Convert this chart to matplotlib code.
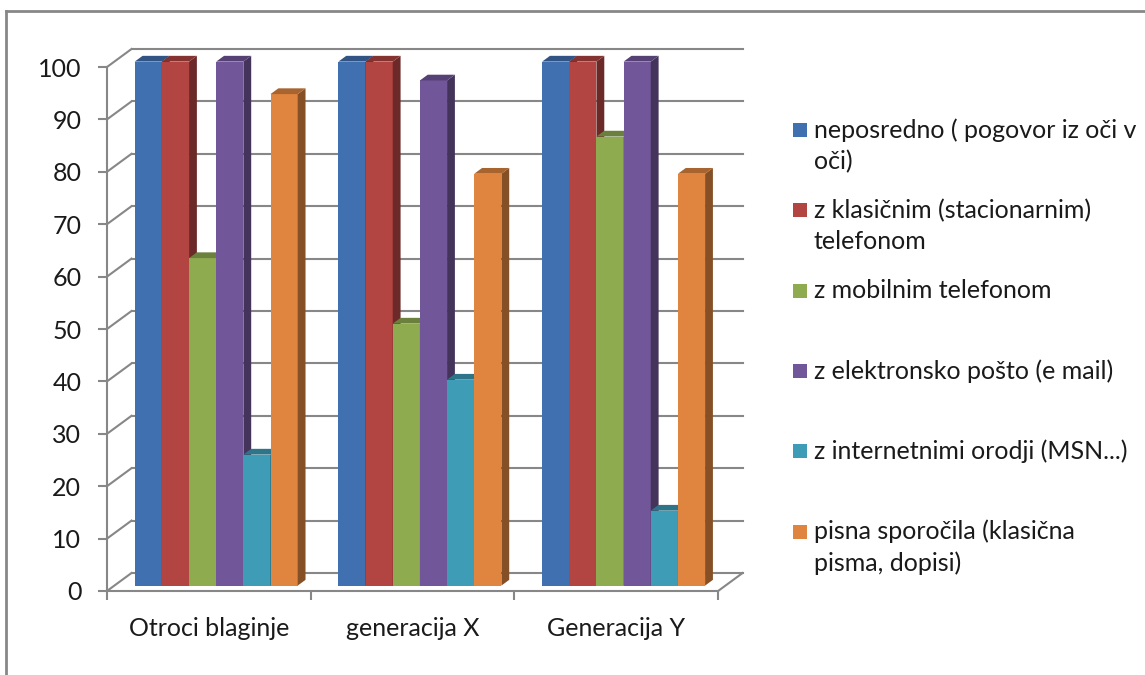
import numpy as np
import matplotlib.pyplot as plt
from matplotlib.patches import Polygon, Rectangle
from matplotlib.lines import Line2D
from matplotlib.colors import to_rgb

plt.rcParams['font.family'] = ['Lato', 'DejaVu Sans']

categories = ['Otroci blaginje', 'generacija X', 'Generacija Y']
series_labels = [
    'neposredno ( pogovor iz oči v\noči)',
    'z klasičnim (stacionarnim)\ntelefonom',
    'z mobilnim telefonom',
    'z elektronsko pošto (e mail)',
    'z internetnimi orodji (MSN...)',
    'pisna sporočila (klasična\npisma, dopisi)',
]
neposredno = [100, 100, 100]
klasicni = [100, 100, 100]
mobilni = [62.5, 50, 85.7]
email = [100, 96.4, 100]
internet = [25, 39.3, 14.3]
pisma = [93.8, 78.6, 78.6]
series = [neposredno, klasicni, mobilni, email, internet, pisma]
colors = ['#4170B0', '#B24441', '#8FAB50', '#715699', '#3E9CB6', '#E0853F']
yticks = list(range(0, 101, 10))

W, H = 1145, 675
px_x = 203.7          # pixels per category
px_y = 5.24           # pixels per value unit
DX, DY = 24.5 / px_x, 18 / px_y   # oblique offset of the back wall
d0, dd = 0.3, 0.32    # bar front depth and bar thickness (fraction of wall depth)
w = 0.8 / len(series)
grid = '#878787'
txt = '#1A1A1A'
fs = 18


def shade(c, f):
    return tuple(np.array(to_rgb(c)) * f)


fig = plt.figure(figsize=(W / 100, H / 100), dpi=100)
ax = fig.add_axes([107 / W, (H - 591) / H, 646 / W, 550 / H])
ax.set_xlim(-0.5, -0.5 + 646 / px_x)
ax.set_ylim(0, 550 / px_y)
ax.patch.set_visible(False)

# walls: side wall diagonals, back wall gridlines, floor edges
for v in yticks:
    ax.plot([-0.5, -0.5 + DX], [v, v + DY], color=grid, lw=1.5, clip_on=False, zorder=1)
    ax.plot([-0.5 + DX, 2.5 + DX], [v + DY, v + DY], color=grid, lw=1.5, clip_on=False, zorder=1)
ax.plot([2.5, 2.5 + DX], [0, DY], color=grid, lw=1.5, clip_on=False, zorder=1)

# 3d columns: front face via bar, side and top faces as polygons
n = len(categories)
for i, (vals, c) in enumerate(zip(series, colors)):
    z = 3 + i
    x0 = np.arange(n) - 0.4 + i * w + d0 * DX
    ax.bar(x0, vals, width=w, bottom=d0 * DY, align='edge', color=c,
           zorder=z, clip_on=False, linewidth=0)
    for xl, v in zip(x0, vals):
        xr = xl + w
        yb, yt = d0 * DY, v + d0 * DY
        side = [(xr, yb), (xr + dd * DX, yb + dd * DY),
                (xr + dd * DX, yt + dd * DY), (xr, yt)]
        top = [(xl, yt), (xr, yt), (xr + dd * DX, yt + dd * DY),
               (xl + dd * DX, yt + dd * DY)]
        ax.add_patch(Polygon(side, closed=True, color=shade(c, 0.6), lw=0,
                             zorder=z, clip_on=False))
        ax.add_patch(Polygon(top, closed=True, color=shade(c, 0.75), lw=0,
                             zorder=z, clip_on=False))

for s in ['top', 'right']:
    ax.spines[s].set_visible(False)
for s in ['left', 'bottom']:
    ax.spines[s].set_color(grid)
    ax.spines[s].set_linewidth(1.5)
ax.spines['left'].set_bounds(0, 100)
ax.spines['bottom'].set_bounds(-0.5, 2.5)

ax.set_yticks(yticks)
ax.tick_params(axis='y', length=6.5, width=1.5, color=grid, pad=12,
               labelsize=fs, labelcolor=txt)
ax.set_xticks(np.arange(n + 1) - 0.5)
ax.set_xticklabels([''] * (n + 1))
ax.set_xticks(np.arange(n), minor=True)
ax.set_xticklabels(categories, minor=True)
ax.tick_params(axis='x', which='major', length=6.5, width=1.5, color=grid)
ax.tick_params(axis='x', which='minor', length=0, pad=19, labelsize=fs,
               labelcolor=txt)

# legend
for k, (lab, c) in enumerate(zip(series_labels, colors)):
    yc = 130 + k * 80.3
    fig.add_artist(Rectangle((793 / W, 1 - (yc + 7) / H), 14 / W, 14 / H,
                             transform=fig.transFigure, color=c, lw=0))
    for j, line in enumerate(lab.split('\n')):
        fig.text(814 / W, 1 - (yc + j * 31.5) / H, line, fontsize=fs,
                 color=txt, va='center', ha='left')

# chart frame
fig.add_artist(Line2D([6 / W, 1], [1 - 11 / H, 1 - 11 / H], color=grid, lw=2))
fig.add_artist(Line2D([6 / W, 6 / W], [0, 1 - 11 / H], color=grid, lw=2))

fig.savefig('out.png', dpi=100, facecolor='white')
